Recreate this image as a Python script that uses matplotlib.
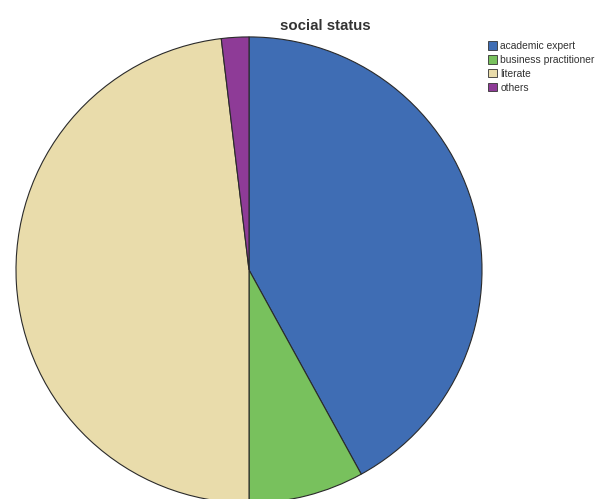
import matplotlib.pyplot as plt
from matplotlib.patches import Patch

plt.rcParams['font.family'] = ['Liberation Sans', 'DejaVu Sans']

categories = ['academic expert', 'business practitioner', 'literate', 'others']
shares = [42.0, 8.0, 48.1, 1.9]
colors = ['#3f6db4', '#78c15d', '#e9dcab', '#8e3b97']

fig = plt.figure(figsize=(5.99, 4.99), dpi=100)
fig.patch.set_facecolor('white')

# pie axes: centre around (249, 270) px, radius ~233 px
ax = fig.add_axes([0.0267, -0.0080, 0.778, 0.934])
ax.pie(shares, colors=colors, startangle=90, counterclock=False,
       wedgeprops=dict(edgecolor='#2a2a2a', linewidth=0.8))
ax.set_xlim(-1, 1)
ax.set_ylim(-1, 1)
ax.set_aspect('auto')
ax.axis('off')

fig.text(0.543, 0.948, 'social status', ha='center', va='center',
         fontsize=10.8, fontweight='bold', color='#333333')

handles = [Patch(facecolor=c, edgecolor='#333333', linewidth=0.6) for c in colors]
fig.legend(handles, categories, loc='upper left', bbox_to_anchor=(0.806, 0.928),
           frameon=False, fontsize=7.4, handlelength=0.85, handleheight=0.85,
           handletextpad=0.35, labelspacing=0.38, borderpad=0.0,
           labelcolor='#333333')

fig.savefig('out.png', dpi=100)
